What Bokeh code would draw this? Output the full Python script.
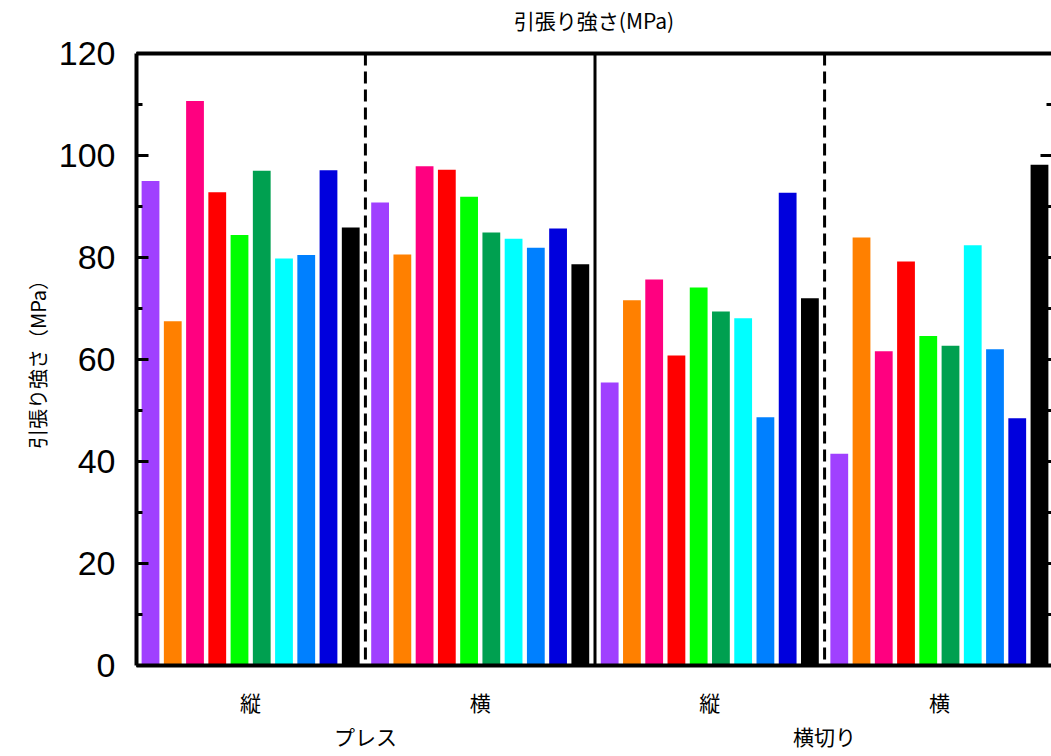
from bokeh.plotting import figure
from bokeh.models import Range1d, Span, LinearAxis, SingleIntervalTicker, FixedTicker, ColumnDataSource
from bokeh.embed import file_html
from bokeh.resources import INLINE

# ---- data ----
methods = ["プレス", "横切り"]
directions = ["縦", "横"]
group_labels = [d for m in methods for d in directions]   # 縦 横 縦 横

series_colors = ["#A040FF", "#FF8000", "#FF0080", "#FF0000", "#00FF00",
                 "#00A050", "#00FFFF", "#0080FF", "#0000DD", "#000000"]

s_purple = [95.0, 90.8, 55.5, 41.5]
s_orange = [67.5, 80.6, 71.6, 83.9]
s_pink = [110.7, 97.9, 75.7, 61.6]
s_red = [92.8, 97.2, 60.8, 79.2]
s_green = [84.4, 91.9, 74.1, 64.6]
s_dgreen = [97.0, 84.9, 69.4, 62.7]
s_cyan = [79.8, 83.7, 68.1, 82.4]
s_blue = [80.5, 81.9, 48.7, 62.0]
s_dblue = [97.1, 85.7, 92.7, 48.5]
s_black = [85.9, 78.7, 72.0, 98.2]
series_values = [s_purple, s_orange, s_pink, s_red, s_green,
                 s_dgreen, s_cyan, s_blue, s_dblue, s_black]

y_major_ticks = [0, 20, 40, 60, 80, 100, 120]
y_minor_ticks = [10, 30, 50, 70, 90, 110]
title_text = "引張り強さ(MPa)"
y_label_text = "引張り強さ（MPa）"

# ---- layout helpers (slot units: one bar slot = 1) ----
n_series = len(series_values)
n_groups = len(group_labels)
G = 0.32             # extra gap between groups
group_pitch = n_series + G
pad_left, pad_right = 0.13, 0.04
x_start = -pad_left
x_end = n_groups * n_series + (n_groups - 1) * G + pad_right
group_centers = [k * group_pitch + n_series / 2 for k in range(n_groups)]
method_centers = [(group_centers[2 * m] + group_centers[2 * m + 1]) / 2 for m in range(len(methods))]

W, H = 1051, 756
BL, BT, BB = 136, 53, 91
p = figure(x_range=Range1d(x_start, x_end), y_range=Range1d(0, 120), width=W, height=H,
           output_backend="svg", toolbar_location=None,
           min_border_left=BL, min_border_top=BT, min_border_bottom=BB,
           min_border_right=0)
p.xgrid.visible = False
p.ygrid.visible = False
p.outline_line_color = None
p.title.text = ""

xa = p.below[0]
ya = p.left[0]

px_per_slot = (W - BL) / (x_end - x_start)

for i, (vals, col) in enumerate(zip(series_values, series_colors)):
    xs = [k * group_pitch + i + 0.5 for k in range(n_groups)]
    src = ColumnDataSource(dict(x=xs, top=vals))
    p.vbar(x="x", top="top", bottom=0, width=0.8, source=src,
           fill_color=col, line_color=None)

# separators between groups
styles = ["dashed", "solid", "dashed"]
for k, st in enumerate(styles):
    loc = k * group_pitch + n_series + G / 2
    p.add_layout(Span(location=loc, dimension="height", line_color="black",
                      line_width=3, line_dash=("12 6" if st == "dashed" else "solid")))

# right-side inward ticks (axis itself lies just beyond the page edge)
p.segment(x0=[x_end] * len(y_major_ticks), y0=y_major_ticks,
          x1=[x_end - 11 / px_per_slot] * len(y_major_ticks), y1=y_major_ticks,
          line_color="black", line_width=3)
p.segment(x0=[x_end] * len(y_minor_ticks), y0=y_minor_ticks,
          x1=[x_end - 5 / px_per_slot] * len(y_minor_ticks), y1=y_minor_ticks,
          line_color="black", line_width=3)

# top axis: border line + title as its label
top = LinearAxis(ticker=FixedTicker(ticks=[]), axis_line_width=4, axis_line_color="black",
                 major_tick_out=0, major_tick_in=0, minor_tick_out=0, minor_tick_in=0,
                 axis_label=title_text, axis_label_text_font="Noto Sans CJK JP",
                 axis_label_text_font_size="21px", axis_label_text_font_style="normal",
                 axis_label_text_color="black", axis_label_standoff=19)
p.add_layout(top, "above")

# left axis
ya.ticker = SingleIntervalTicker(interval=20, num_minor_ticks=2)
ya.axis_line_width = 4
ya.axis_line_color = "black"
ya.major_tick_in = 12
ya.major_tick_out = 0
ya.minor_tick_in = 6
ya.minor_tick_out = 0
ya.major_tick_line_width = 3
ya.minor_tick_line_width = 3
ya.major_label_text_font = "Liberation Sans"
ya.major_label_text_font_size = "34px"
ya.major_label_text_color = "black"
ya.major_label_standoff = 21
ya.axis_label = y_label_text
ya.axis_label_text_font = "Noto Sans CJK JP"
ya.axis_label_text_font_size = "20px"
ya.axis_label_text_font_style = "normal"
ya.axis_label_text_color = "black"
ya.axis_label_standoff = 4

# bottom axis: direction labels
xa.ticker = FixedTicker(ticks=group_centers)
xa.major_label_overrides = {c: t for c, t in zip(group_centers, group_labels)}
xa.axis_line_width = 4
xa.axis_line_color = "black"
xa.major_tick_line_color = None
xa.minor_tick_line_color = None
xa.major_tick_in = 0
xa.major_tick_out = 0
xa.minor_tick_in = 0
xa.minor_tick_out = 0
xa.major_label_text_font = "Noto Sans CJK JP"
xa.major_label_text_font_size = "21px"
xa.major_label_text_color = "black"
xa.major_label_standoff = 21

# second bottom axis: method labels
xa2 = LinearAxis(ticker=FixedTicker(ticks=method_centers),
                 major_label_overrides={c: t for c, t in zip(method_centers, methods)},
                 axis_line_color=None, major_tick_line_color=None,
                 major_tick_in=0, major_tick_out=0, minor_tick_in=0, minor_tick_out=0,
                 major_label_text_font="Noto Sans CJK JP", major_label_text_font_size="21px",
                 major_label_text_color="black", major_label_standoff=1)
p.add_layout(xa2, "below")

open("out.html", "w").write(file_html(p, INLINE))
